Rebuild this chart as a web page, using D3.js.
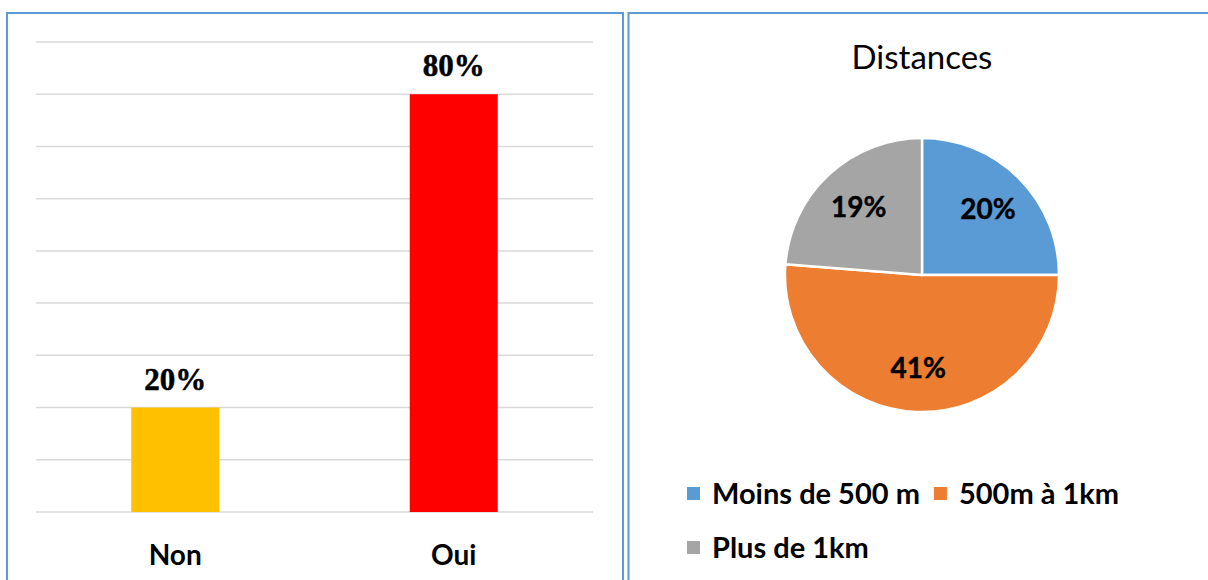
<!DOCTYPE html>
<html><head><meta charset="utf-8">
<script src="https://cdn.jsdelivr.net/npm/d3@7"></script>
<style>html,body{margin:0;padding:0;background:#fff;}svg{display:block;}</style>
</head><body>
<svg id="c" width="1208" height="580"></svg>
<script>
// Bar chart data
const barCategories = ["Non", "Oui"];
const barValues = [0.20, 0.80];
const barColors = ["#FFC000", "#FF0000"];
const barTicks = [0, 0.1, 0.2, 0.3, 0.4, 0.5, 0.6, 0.7, 0.8, 0.9];

// Pie chart data
const pieTitle = "Distances";
const pieCategories = ["Moins de 500 m", "500m à 1km", "Plus de 1km"];
const pieValues = [20, 41, 19];
const pieColors = ["#5B9BD5", "#ED7D31", "#A5A5A5"];

const svg = d3.select("#c");
const border = "#5B9BD5";

// panels
svg.append("rect").attr("x", 7).attr("y", 13).attr("width", 616).attr("height", 600)
  .attr("fill", "none").attr("stroke", border).attr("stroke-width", 2);
svg.append("rect").attr("x", 628.5).attr("y", 13).attr("width", 620).attr("height", 600)
  .attr("fill", "none").attr("stroke", border).attr("stroke-width", 2);

// ---- Bar chart ----
const x = d3.scaleBand().domain(barCategories).range([36, 593]).paddingInner(0.684).paddingOuter(0.342);
const y = d3.scaleLinear().domain([0, 0.9]).range([512, 42]);

const grid = svg.append("g");
grid.selectAll("line").data(barTicks).join("line")
  .attr("x1", 36).attr("x2", 593)
  .attr("y1", d => y(d)).attr("y2", d => y(d))
  .attr("stroke", "#D9D9D9").attr("stroke-width", 1.5);

svg.append("g").selectAll("rect").data(barValues).join("rect")
  .attr("x", (d, i) => x(barCategories[i]))
  .attr("width", x.bandwidth())
  .attr("y", d => y(d))
  .attr("height", d => y(0) - y(d))
  .attr("fill", (d, i) => barColors[i]);

svg.append("g").selectAll("text").data(barValues).join("text")
  .attr("x", (d, i) => x(barCategories[i]) + x.bandwidth() / 2)
  .attr("y", d => y(d) - 18)
  .attr("text-anchor", "middle")
  .attr("font-family", "'Liberation Serif', 'Times New Roman', serif")
  .attr("font-weight", "bold").attr("font-size", 31)
  .attr("stroke", "#000").attr("stroke-width", 0.5)
  .text(d => d3.format(".0%")(d));

const xAxis = svg.append("g").attr("transform", `translate(0,${y(0)})`)
  .call(d3.axisBottom(x).tickSize(0).tickPadding(0));
xAxis.select(".domain").remove();
xAxis.selectAll("text")
  .attr("dy", 0).attr("y", 53)
  .attr("font-family", "Lato, sans-serif").attr("font-weight", "bold").attr("font-size", 28)
  .attr("fill", "#000");

// ---- Pie chart ----
const cx = 922, cy = 275, r = 137;
svg.append("text").attr("x", cx).attr("y", 69).attr("text-anchor", "middle")
  .attr("font-family", "Lato, sans-serif").attr("font-size", 33).attr("fill", "#000")
  .text(pieTitle);

const pie = d3.pie().sort(null).value(d => d)(pieValues);
const arc = d3.arc().innerRadius(0).outerRadius(r);
const labelArc = d3.arc().innerRadius(r * 0.68).outerRadius(r * 0.68);
const pg = svg.append("g").attr("transform", `translate(${cx},${cy})`);
pg.selectAll("path").data(pie).join("path")
  .attr("d", arc).attr("fill", (d, i) => pieColors[i])
  .attr("stroke", "#fff").attr("stroke-width", 2.5).attr("stroke-linejoin", "round");
pg.selectAll("text").data(pie).join("text")
  .attr("transform", d => `translate(${labelArc.centroid(d)})`)
  .attr("text-anchor", "middle").attr("dy", "0.36em")
  .attr("font-family", "Lato, sans-serif").attr("font-weight", "bold").attr("font-size", 28)
  .attr("fill", "#000").attr("stroke", "#000").attr("stroke-width", 0.4)
  .text(d => d.data + "%");

// legend
const leg = svg.append("g");
const legStartX = 687, legRowY = [504, 558], legMaxX = 1190;
let lx = legStartX, row = 0;
pieCategories.forEach((name, i) => {
  const g = leg.append("g");
  const t = g.append("text").attr("x", 25).attr("y", 0)
    .attr("font-family", "Lato, sans-serif").attr("font-weight", "bold").attr("font-size", 29)
    .attr("fill", "#000").text(name);
  const w = t.node().getComputedTextLength();
  if (lx + 25 + w > legMaxX && lx !== legStartX) { row++; lx = legStartX; }
  g.attr("transform", `translate(${lx},${legRowY[row]})`);
  g.append("rect").attr("x", 0).attr("y", -17).attr("width", 13).attr("height", 13).attr("fill", pieColors[i]);
  lx += 25 + w + 14;
});
</script>
</body></html>
